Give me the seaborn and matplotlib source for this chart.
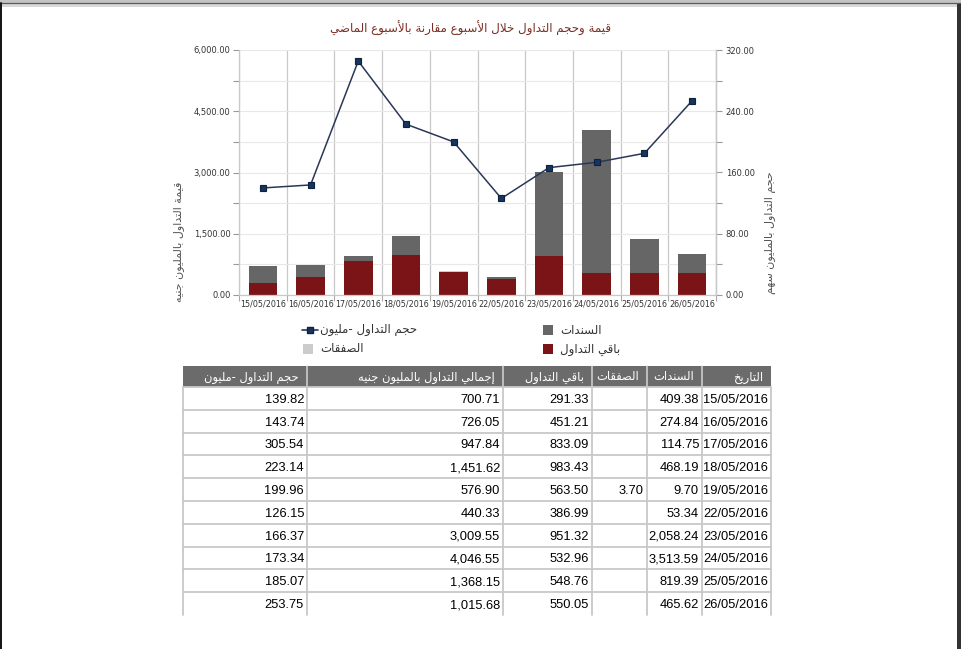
import unicodedata
import numpy as np
import pandas as pd
import matplotlib
matplotlib.use("Agg")
import matplotlib.pyplot as plt
import seaborn as sns
from matplotlib.patches import Rectangle
from matplotlib.lines import Line2D

# ---------------- data ----------------
dates = ["15/05/2016", "16/05/2016", "17/05/2016", "18/05/2016", "19/05/2016",
         "22/05/2016", "23/05/2016", "24/05/2016", "25/05/2016", "26/05/2016"]
bonds = [409.38, 274.84, 114.75, 468.19, 9.70, 53.34, 2058.24, 3513.59, 819.39, 465.62]
deals = [None, None, None, None, 3.70, None, None, None, None, None]
rest = [291.33, 451.21, 833.09, 983.43, 563.50, 386.99, 951.32, 532.96, 548.76, 550.05]
total = [700.71, 726.05, 947.84, 1451.62, 576.90, 440.33, 3009.55, 4046.55, 1368.15, 1015.68]
volume = [139.82, 143.74, 305.54, 223.14, 199.96, 126.15, 166.37, 173.34, 185.07, 253.75]

left_ticks = [0, 1500, 3000, 4500, 6000]
right_ticks = [0, 80, 160, 240, 320]

title = "قيمة وحجم التداول خلال الأسبوع مقارنة بالأسبوع الماضي"
ylabel_left = "قيمة التداول بالمليون جنيه"
ylabel_right = "حجم التداول بالمليون سهم"
lbl_volume = "حجم التداول -مليون"
lbl_bonds = "السندات"
lbl_deals = "الصفقات"
lbl_rest = "باقي التداول"
lbl_total = "إجمالي التداول بالمليون جنيه"
lbl_date = "التاريخ"

# ---------------- Arabic shaping (matplotlib has no complex text layout) -------
_LAMALEF = {"\u0627": ("\uFEFB", "\uFEFC"), "\u0623": ("\uFEF7", "\uFEF8"),
            "\u0625": ("\uFEF9", "\uFEFA"), "\u0622": ("\uFEF5", "\uFEF6")}


def _forms(ch):
    try:
        name = unicodedata.name(ch)
    except ValueError:
        return None
    if not name.startswith("ARABIC LETTER"):
        return None
    d = {}
    for f in ("ISOLATED", "FINAL", "INITIAL", "MEDIAL"):
        try:
            d[f] = unicodedata.lookup(f"{name} {f} FORM")
        except KeyError:
            pass
    return d or None


def ar(text):
    out = []
    chars = list(text)
    n = len(chars)
    i = 0
    prev_joins = False
    while i < n:
        ch = chars[i]
        f = _forms(ch)
        if f is None:
            out.append(ch)
            prev_joins = False
            i += 1
            continue
        if ch == "\u0644" and i + 1 < n and chars[i + 1] in _LAMALEF:
            iso, fin = _LAMALEF[chars[i + 1]]
            out.append(fin if prev_joins else iso)
            prev_joins = False
            i += 2
            continue
        nxt = _forms(chars[i + 1]) if i + 1 < n else None
        join_next = ("INITIAL" in f) and nxt is not None
        if prev_joins and join_next:
            form = "MEDIAL"
        elif prev_joins:
            form = "FINAL"
        elif join_next:
            form = "INITIAL"
        else:
            form = "ISOLATED"
        out.append(f.get(form, f.get("ISOLATED", ch)))
        prev_joins = join_next
        i += 1
    return "".join(out)[::-1]


# ---------------- style ----------------
sns.set_style("white")
plt.rcParams["font.family"] = ["DejaVu Sans"]

C_REST = "#7b1416"
C_BONDS = "#666666"
C_DEALS = "#cccccc"
C_LINE = "#2a3757"
C_MARK = "#17365d"
GRID_V = "#c8c8c8"
GRID_H = "#e8e8e8"
TXT = "#333333"

W, H = 961, 649
fig = plt.figure(figsize=(W / 100, H / 100), dpi=100, facecolor="white")


def fx(px):
    return px / W


def fy(py):
    return 1 - py / H


df = pd.DataFrame({"date": dates, "rest": rest, "bonds": bonds,
                   "deals": pd.Series(deals, dtype=float), "total": total,
                   "volume": volume})
df["stack2"] = df["rest"] + df["bonds"]
df["stack3"] = df["stack2"] + df["deals"].fillna(0)

ax = fig.add_axes([fx(239), fy(295), fx(716) - fx(239), fy(50) - fy(295)])
ax.set_facecolor("white")
ax.set_axisbelow(True)

bar_kw = dict(width=0.6, saturation=1, linewidth=0, ax=ax, errorbar=None)
sns.barplot(data=df, x="date", y="stack3", color=C_DEALS, **bar_kw)
sns.barplot(data=df, x="date", y="stack2", color=C_BONDS, **bar_kw)
sns.barplot(data=df, x="date", y="rest", color=C_REST, **bar_kw)

ax2 = ax.twinx()
sns.pointplot(data=df, x="date", y="volume", ax=ax2, color=C_LINE, markers="s",
              markersize=4.2, linewidth=1.1, errorbar=None,
              markerfacecolor=C_MARK, markeredgecolor="#0e2240")

ax.set_xlim(-0.5, len(dates) - 0.5)
ax.set_ylim(0, 6000)
ax2.set_ylim(0, 320)

# left axis ticks
ax.set_yticks(left_ticks)
ax.set_yticklabels([f"{v:,.2f}" for v in left_ticks])
ax.set_yticks(np.arange(0, 6001, 750), minor=True)
ax.yaxis.grid(True, which="both", color=GRID_H, lw=0.8)
ax.set_xticks(np.arange(-0.5, len(dates), 1), minor=True)
ax.xaxis.grid(True, which="minor", color=GRID_V, lw=0.9)
ax.xaxis.grid(False, which="major")
ax.tick_params(axis="x", which="major", length=0, labelsize=5.8, labelcolor=TXT, pad=3)
ax.tick_params(axis="x", which="minor", length=4, color="#aaaaaa", bottom=True, width=0.8)
ax.tick_params(axis="y", which="both", length=4, color="#999999", left=True,
               labelsize=6, labelcolor=TXT, pad=2, width=0.8)
ax.set_xlabel("")
ax.set_ylabel("")

# right axis ticks
ax2.set_yticks(right_ticks)
ax2.set_yticklabels([f"{v:.2f}" for v in right_ticks])
ax2.set_yticks(np.arange(0, 321, 40), minor=True)
ax2.grid(False)
ax2.tick_params(axis="y", which="both", length=4, color="#999999", right=True,
                labelsize=6, labelcolor=TXT, pad=3, width=0.8)
ax2.set_xlabel("")
ax2.set_ylabel("")

for a in (ax, ax2):
    a.spines["top"].set_visible(False)
    for s in ("left", "right", "bottom"):
        a.spines[s].set_color(GRID_V)
        a.spines[s].set_linewidth(0.9)
ax2.spines["left"].set_visible(False)
ax2.spines["bottom"].set_visible(False)
ax2.patch.set_visible(False)

# ---------------- overlay (titles, legend, table, frame) ----------------
oax = fig.add_axes([0, 0, 1, 1])
oax.set_xlim(0, W)
oax.set_ylim(H, 0)
oax.axis("off")
oax.patch.set_visible(False)

# page frame
oax.add_patch(Rectangle((0, 0), W, 2.5, color="#c4c4c4", lw=0))
oax.add_line(Line2D([0, W], [3, 3], color="#5a5a5a", lw=0.9))
oax.add_patch(Rectangle((0, 3.5), W, 3, color="#d9d9d9", lw=0))
oax.add_line(Line2D([0.8, 0.8], [3, H], color="#111111", lw=1.4))
oax.add_patch(Rectangle((957, 3), 4, H, color="#333333", lw=0))

oax.text(470, 28, ar(title), ha="center", va="center", fontsize=8.6, color="#7b2e24")
fig.text(fx(179), fy(242), ar(ylabel_left), rotation=90, ha="center", va="center",
         fontsize=8, color="#555555")
fig.text(fx(770), fy(233), ar(ylabel_right), rotation=90, ha="center", va="center",
         fontsize=8, color="#555555")

# legend
LEG_FS = 8.5
oax.add_line(Line2D([302, 318], [330, 330], color=C_LINE, lw=1.2))
oax.add_line(Line2D([310], [330], marker="s", markersize=4.2, color=C_MARK,
                    markeredgecolor="#0e2240"))
oax.text(320, 330, ar(lbl_volume), ha="left", va="center", fontsize=LEG_FS, color=TXT)
oax.add_patch(Rectangle((303, 344), 10, 10, color=C_DEALS, lw=0))
oax.text(320, 349, ar(lbl_deals), ha="left", va="center", fontsize=LEG_FS, color=TXT)
oax.add_patch(Rectangle((543, 325), 10, 10, color=C_BONDS, lw=0))
oax.text(560, 330, ar(lbl_bonds), ha="left", va="center", fontsize=LEG_FS, color=TXT)
oax.add_patch(Rectangle((543, 344), 10, 10, color=C_REST, lw=0))
oax.text(560, 349, ar(lbl_rest), ha="left", va="center", fontsize=LEG_FS, color=TXT)

# table
col_edges = [183, 307, 503, 592, 647, 702, 771]
headers = [lbl_volume, lbl_total, lbl_rest, lbl_deals, lbl_bonds, lbl_date]
columns = [volume, total, rest, deals, bonds, dates]
head_top, head_bot = 366, 387
row_h = 22.8
n_rows = len(dates)
tab_bottom = head_bot + n_rows * row_h

oax.add_patch(Rectangle((col_edges[0], head_top), col_edges[-1] - col_edges[0],
                        head_bot - head_top, color="#6b6b6b", lw=0))
for x in col_edges[1:-1]:
    oax.add_line(Line2D([x, x], [head_top, head_bot], color="#d6d6d6", lw=1.1))
for j, h in enumerate(headers):
    oax.text(col_edges[j + 1] - 8, (head_top + head_bot) / 2 + 0.5, ar(h), ha="right",
             va="center", fontsize=8.3, color="white")

for x in col_edges:
    oax.add_line(Line2D([x, x], [head_bot, tab_bottom], color=GRID_V, lw=1.3))
for r in range(n_rows):
    y0 = head_bot + r * row_h
    oax.add_line(Line2D([col_edges[0], col_edges[-1]], [y0, y0], color=GRID_V, lw=1.3))
    for j, col in enumerate(columns):
        v = col[r]
        if v is None:
            continue
        s = v if isinstance(v, str) else f"{v:,.2f}"
        oax.text(col_edges[j + 1] - 3, y0 + row_h / 2 + 1.5, s, ha="right", va="center",
                 fontsize=9.3, color="black", family=["Liberation Sans", "DejaVu Sans"])

fig.savefig("out.png", dpi=100, facecolor=fig.get_facecolor())
